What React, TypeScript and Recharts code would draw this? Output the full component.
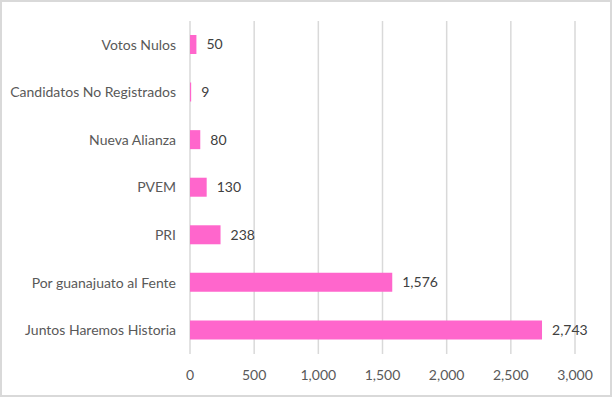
import React from 'react';
import { BarChart, Bar, XAxis, YAxis, CartesianGrid, LabelList } from 'recharts';

const parties = [
  'Votos Nulos',
  'Candidatos No Registrados',
  'Nueva Alianza',
  'PVEM',
  'PRI',
  'Por guanajuato al Fente',
  'Juntos Haremos Historia',
];
const votes = [50, 9, 80, 130, 238, 1576, 2743];
const xTicks = [0, 500, 1000, 1500, 2000, 2500, 3000];

const data = parties.map((name, i) => ({ name, votes: votes[i] }));

const fmt = (v: number) => v.toLocaleString('en-US');

export default function App() {
  return (
    <div
      style={{
        position: 'absolute',
        left: 0,
        top: 0,
        width: 608,
        height: 393,
        border: '2px solid #d9d9d9',
        background: '#fff',
        fontFamily: 'Lato, sans-serif',
      }}
    >
      <BarChart
        width={608}
        height={393}
        data={data}
        layout="vertical"
        margin={{ top: 19, right: 35, bottom: 11, left: 0 }}
        barSize={19}
      >
        <CartesianGrid horizontal={false} stroke="#d9d9d9" strokeWidth={1.5} />
        <XAxis
          type="number"
          domain={[0, 3000]}
          ticks={xTicks}
          tickFormatter={fmt}
          axisLine={false}
          tickLine={false}
          tickMargin={10}
          height={30}
          tick={{ fill: '#595959', fontSize: 14 }}
        />
        <YAxis
          type="category"
          dataKey="name"
          width={188}
          axisLine={false}
          tickLine={false}
          tickMargin={8}
          interval={0}
          tick={{ fill: '#595959', fontSize: 14 }}
        />
        <Bar dataKey="votes" fill="#ff66cc" isAnimationActive={false}>
          <LabelList
            dataKey="votes"
            position="right"
            offset={10}
            formatter={(v: any) => fmt(Number(v))}
            style={{ fill: '#404040', fontSize: 14 }}
          />
        </Bar>
      </BarChart>
    </div>
  );
}
